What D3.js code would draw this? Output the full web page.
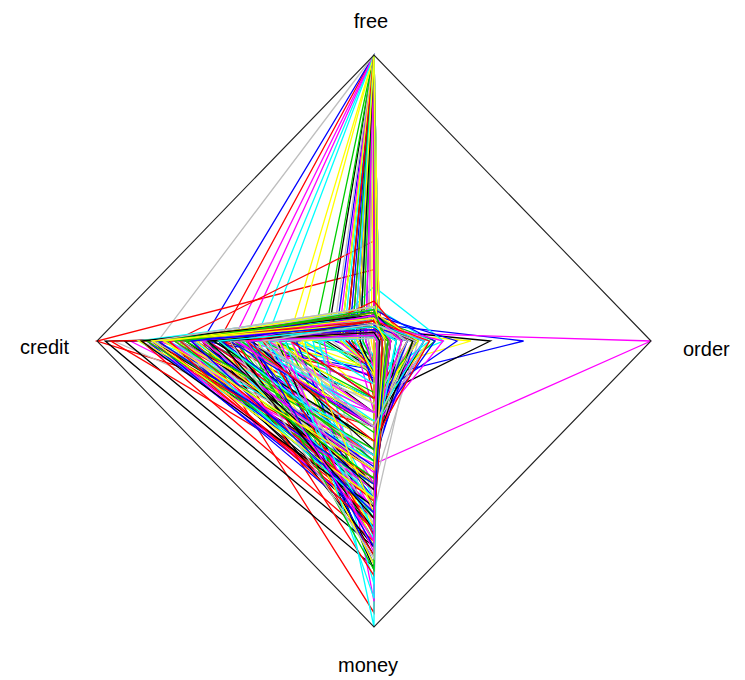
<!DOCTYPE html>
<html>
<head>
<meta charset="utf-8">
<script src="https://cdn.jsdelivr.net/npm/d3@7"></script>
<style>
  body { margin: 0; background: #fff; }
  svg { display: block; }
  text { font-family: "Liberation Sans", Arial, sans-serif; font-size: 20px; fill: #000; }
</style>
</head>
<body>
<svg width="745" height="680"></svg>
<script>
// axes of the star, in the order they are drawn (angle 0, 90, 180, 270)
var axes = ["order", "free", "credit", "money"];

// R palette, recycled row by row (black red green3 blue cyan magenta yellow gray)
var palette = ["#000000", "#FF0000", "#00CD00", "#0000FF", "#00FFFF", "#FF00FF", "#FFFF00", "#BEBEBE"];

// scaled values, one line of 8 = one pass through the palette
var free = [
	0.05, 1, 0.04, 1, 0.02, 1, 0.08, 1,
	0.03, 0.25, 1, 0.06, 1, 1, 1, 0.02,
	1, 0.03, 1, 0.06, 1, 0.03, 1, 0.04,
	0.02, 1, 0.05, 0.02, 0.02, 0.04, 0.03, 0.03,
	0.04, 1, 1, 1, 0.19, 0.04, 1, 0.07,
	0.03, 0.35, 0.1, 1, 1, 0.05, 0.02, 0.06,
	1, 0.02, 0.03, 0.09, 0.1, 1, 0.04, 1,
	0.02, 1, 0.06, 1, 0.03, 0.08, 1, 0.04,
	0.06, 0.08, 0.08, 0.03, 0.05, 1, 0.02, 1,
	1, 0.12, 0.07, 0.02, 1, 0.02, 0.07, 0.02,
	0.04, 0.03, 1, 0.09, 0.11, 0.06, 1, 0.05,
	0.01, 0.1, 0.07, 1, 0.02, 0.1, 0.08, 1,
	0.06, 1, 0.02, 0.09, 0.12, 0.07, 0.1, 0.02,
	0.08, 0.03, 1, 0.02, 0.06, 1, 0.03, 0.1,
	1, 0.08, 0.09, 0.11, 0.01, 0.05, 0.06, 0.12,
	0.02, 0.05, 0.09, 0.08, 1, 0.03, 0.06, 0.07,
	0.06, 0.02, 0.1, 0.03, 0.08, 0.06, 1, 0.02,
	0.1, 0.07, 0.02, 0.05, 0.09, 0.03, 0.02, 0.11,
	0.05, 0.14, 0.08, 0.02, 0.06, 0.07, 0.12, 0.05,
	0.02, 0.06, 0.08, 0.1, 0.01, 0.04, 0.1, 0.02,
	0.09, 0.02, 0.06, 0.09, 0.07, 0.02, 0.05, 0.12,
	0.07, 0.1, 0.02, 0.04, 0.06, 0.08, 0.02, 0.08,
	0.05, 0.07, 0.11, 0.02, 0.02, 0.09, 0.06, 0.01,
	0.03, 0.07, 0.1, 0.06, 0.05, 0.02, 0.08, 0.06
];
var order = [
	0.12, 0, 0.05, 0.01, 0.02, 0.02, 0.15, 0.01,
	0.04, 0.02, 0.01, 0.2, 0.02, 0.01, 0.02, 0.06,
	0.01, 0.01, 0, 0.54, 0.01, 1.0, 0.02, 0.1,
	0.01, 0, 0.08, 0.14, 0, 0.02, 0.35, 0.14,
	0.42, 0, 0.01, 0.02, 0.25, 0, 0.01, 0.05,
	0.02, 0.03, 0.12, 0.01, 0.02, 0.18, 0.01, 0.16,
	0.01, 0.03, 0.02, 0.1, 0.05, 0, 0.04, 0.01,
	0.01, 0, 0.05, 0.01, 0.02, 0.06, 0.01, 0.05,
	0.08, 0.03, 0.22, 0.01, 0.1, 0.01, 0.01, 0.02,
	0, 0.15, 0.04, 0.06, 0, 0.02, 0.2, 0.01,
	0.03, 0.02, 0.01, 0.3, 0.04, 0.05, 0.02, 0.12,
	0, 0.05, 0.06, 0, 0.01, 0.14, 0.04, 0.01,
	0.18, 0, 0.01, 0.05, 0.2, 0.03, 0.06, 0.02,
	0.04, 0.02, 0.01, 0.01, 0.08, 0, 0.02, 0.06,
	0.01, 0.1, 0.05, 0.22, 0.01, 0.04, 0.14, 0.03,
	0.01, 0.06, 0.16, 0.05, 0.01, 0.02, 0.03, 0.2,
	0.05, 0.01, 0.04, 0.02, 0.12, 0.25, 0.01, 0.02,
	0.1, 0.03, 0.01, 0.15, 0.05, 0.04, 0, 0.05,
	0.06, 0.12, 0.03, 0.02, 0.05, 0.18, 0.04, 0.1,
	0.01, 0.05, 0.14, 0.04, 0.01, 0.05, 0.16, 0.01,
	0.03, 0.02, 0.06, 0.12, 0.04, 0.01, 0.05, 0.03,
	0.14, 0.04, 0.01, 0.05, 0.18, 0.06, 0.01, 0.12,
	0.05, 0.03, 0.04, 0.01, 0.02, 0.1, 0.05, 0.01,
	0.02, 0.2, 0.05, 0.04, 0.08, 0.01, 0.04, 0.15
];
var money = [
	0.25, 0.12, 0.35, 0.1, 0.55, 0.15, 0.2, 0.2,
	0.6, 0.3, 0.08, 0.3, 0.1, 0.12, 0.06, 0.4,
	0.1, 0.95, 0.12, 0.13, 0.05, 0.43, 0.1, 0.3,
	0.79, 0.15, 0.45, 0.42, 1.0, 0.5, 0.1, 0.6,
	0.2, 0.2, 0.1, 0.05, 0.1, 0.91, 0.08, 0.3,
	0.72, 0.4, 0.3, 0.12, 0.1, 0.35, 0.65, 0.5,
	0.1, 0.55, 0.7, 0.35, 0.3, 0.25, 0.45, 0.1,
	0.75, 0.1, 0.28, 0.08, 0.85, 0.25, 0.05, 0.3,
	0.5, 0.6, 0.18, 0.68, 0.2, 0.1, 0.72, 0.12,
	0.08, 0.3, 0.55, 0.4, 0.05, 0.6, 0.25, 0.55,
	0.65, 0.75, 0.06, 0.2, 0.5, 0.4, 0.1, 0.35,
	0.8, 0.45, 0.35, 0.15, 0.62, 0.25, 0.5, 0.1,
	0.3, 0.1, 0.58, 0.62, 0.15, 0.55, 0.4, 0.7,
	0.48, 0.7, 0.08, 0.78, 0.35, 0.1, 0.66, 0.45,
	0.12, 0.4, 0.52, 0.3, 0.7, 0.62, 0.28, 0.55,
	0.72, 0.5, 0.2, 0.58, 0.1, 0.5, 0.42, 0.3,
	0.55, 0.82, 0.6, 0.65, 0.25, 0.3, 0.12, 0.58,
	0.35, 0.48, 0.62, 0.4, 0.42, 0.58, 0.78, 0.38,
	0.45, 0.2, 0.5, 0.55, 0.55, 0.25, 0.35, 0.45,
	0.66, 0.62, 0.32, 0.44, 0.9, 0.52, 0.22, 0.64,
	0.58, 0.68, 0.42, 0.3, 0.6, 0.74, 0.5, 0.4,
	0.38, 0.56, 0.8, 0.5, 0.28, 0.46, 0.6, 0.22,
	0.52, 0.66, 0.38, 0.72, 0.66, 0.3, 0.55, 0.76,
	0.62, 0.35, 0.48, 0.6, 0.4, 0.7, 0.45, 0.3
];
var credit = [
	0.35, 0.56, 0.7, 0.62, 0.3, 0.51, 0.25, 0.78,
	0.75, 1.0, 0.22, 0.4, 0.43, 0.47, 0.31, 0.94,
	0.17, 0.62, 0.18, 0.3, 0.39, 0.88, 0.28, 0.5,
	0.97, 0.08, 0.65, 0.5, 0.22, 0.84, 0.4, 0.55,
	0.5, 0.05, 0.12, 0.14, 0.2, 0.18, 0.1, 0.85,
	0.9, 0.72, 0.45, 0.09, 0.11, 0.6, 0.35, 0.3,
	0.06, 0.95, 0.4, 0.72, 0.8, 0.07, 0.68, 0.04,
	0.45, 0.02, 0.62, 0.03, 0.25, 0.78, 0.01, 0.82,
	0.55, 0.8, 0.35, 0.28, 0.5, 0.13, 0.3, 0.15,
	0.1, 0.55, 0.75, 0.6, 0.05, 0.38, 0.42, 0.2,
	0.7, 0.5, 0.08, 0.3, 0.85, 0.7, 0.12, 0.65,
	0.35, 0.8, 0.58, 0.06, 0.42, 0.38, 0.76, 0.02,
	0.5, 0.1, 0.32, 0.82, 0.25, 0.72, 0.62, 0.48,
	0.8, 0.84, 0.04, 0.38, 0.66, 0.03, 0.44, 0.7,
	0.05, 0.6, 0.78, 0.45, 0.2, 0.8, 0.52, 0.8,
	0.6, 0.66, 0.4, 0.74, 0.07, 0.3, 0.85, 0.35,
	0.62, 0.55, 0.7, 0.8, 0.48, 0.4, 0.06, 0.4,
	0.58, 0.82, 0.5, 0.55, 0.74, 0.66, 0.42, 0.76,
	0.68, 0.3, 0.82, 0.46, 0.6, 0.5, 0.72, 0.62,
	0.52, 0.78, 0.48, 0.64, 0.32, 0.74, 0.36, 0.36,
	0.84, 0.4, 0.56, 0.52, 0.7, 0.34, 0.64, 0.8,
	0.44, 0.7, 0.46, 0.78, 0.42, 0.62, 0.26, 0.46,
	0.6, 0.74, 0.68, 0.44, 0.38, 0.5, 0.8, 0.52,
	0.56, 0.46, 0.72, 0.66, 0.56, 0.46, 0.76, 0.4
];

var svg = d3.select("svg");

var x = d3.scaleLinear().domain([-1, 1]).range([97, 651]);
var y = d3.scaleLinear().domain([-1, 1]).range([627, 55]);

// corner of each axis for a value v
function corner(axis, v) {
	if (axis === "order") return [x(v), y(0)];
	if (axis === "free") return [x(0), y(v)];
	if (axis === "credit") return [x(-v), y(0)];
	return [x(0), y(-v)];
}

var rows = free.map(function(f, i) {
	return { order: order[i], free: f, credit: credit[i], money: money[i], i: i };
});

var line = d3.line().curve(d3.curveLinearClosed);

svg.append("g")
	.selectAll("path")
	.data(rows)
	.enter()
	.append("path")
	.attr("d", d => line(axes.map(a => corner(a, d[a]))))
	.attr("fill", "none")
	.attr("stroke", d => palette[d.i % palette.length])
	.attr("stroke-width", 1.3);

// key star: every axis at its maximum, with the axis names
svg.append("path")
	.attr("d", line(axes.map(a => corner(a, 1))))
	.attr("fill", "none")
	.attr("stroke", "#222")
	.attr("stroke-width", 1.1);

var labels = svg.append("g");
labels.append("text").attr("x", x(0) - 3).attr("y", y(1) - 27).attr("text-anchor", "middle").text("free");
labels.append("text").attr("x", x(1) + 32).attr("y", y(0) + 15).attr("text-anchor", "start").text("order");
labels.append("text").attr("x", x(0) - 6).attr("y", y(-1) + 45).attr("text-anchor", "middle").text("money");
labels.append("text").attr("x", x(-1) - 28).attr("y", y(0) + 13).attr("text-anchor", "end").text("credit");
</script>
</body>
</html>
